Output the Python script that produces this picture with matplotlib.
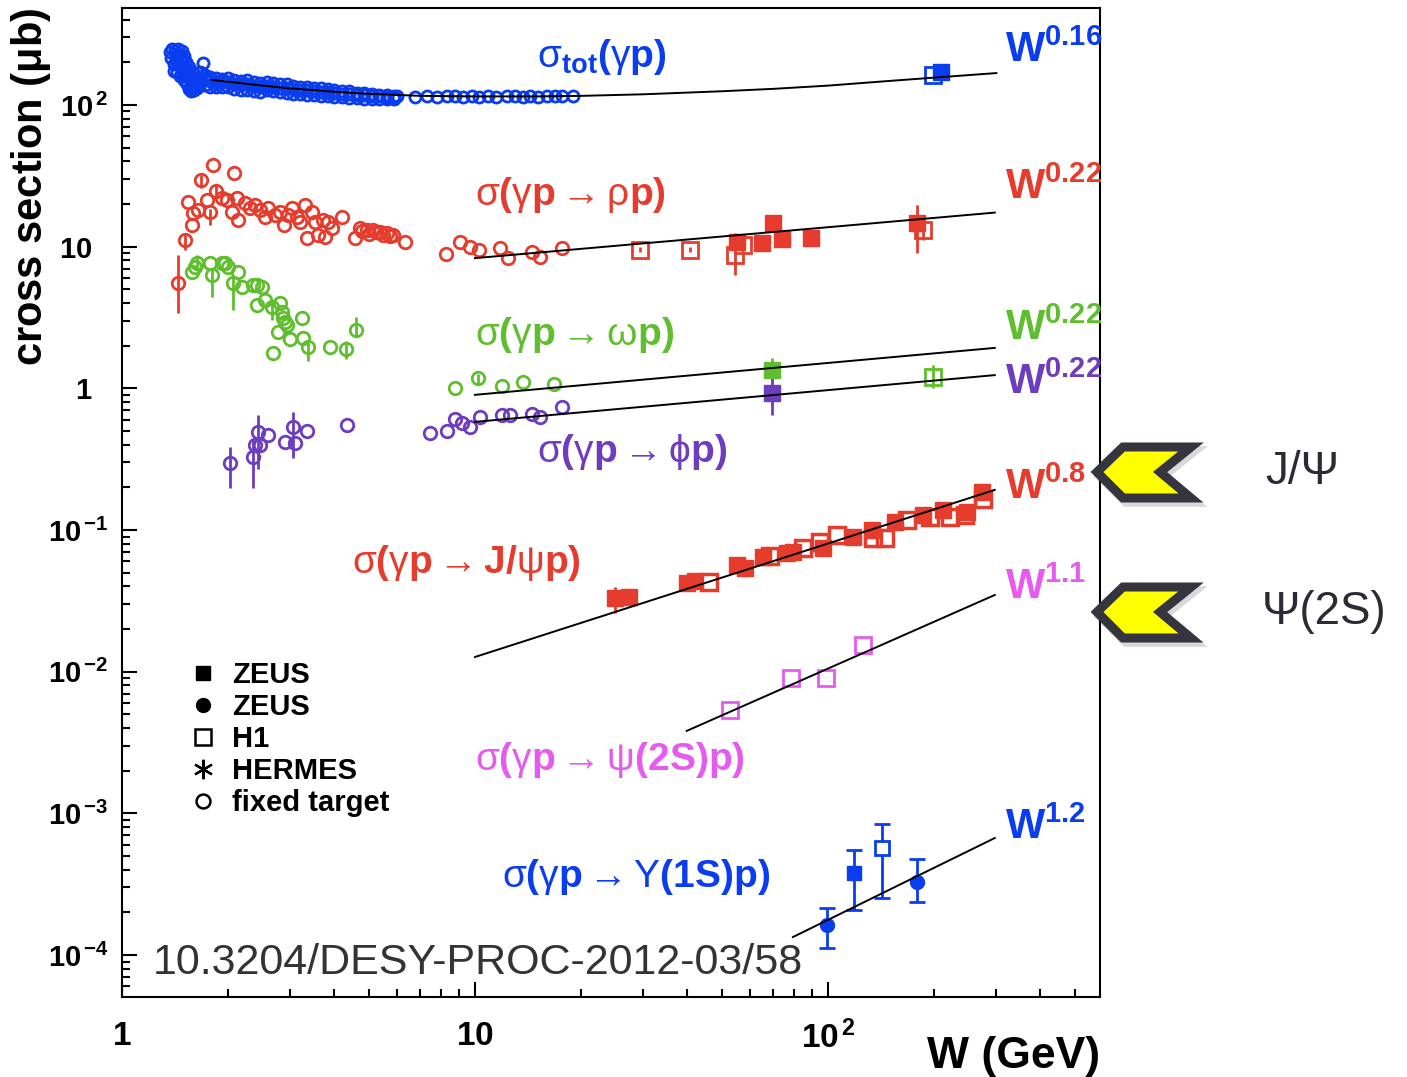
import matplotlib
matplotlib.use("Agg")
import matplotlib.pyplot as plt
from matplotlib import font_manager
from matplotlib.patches import Polygon
from matplotlib.lines import Line2D
from matplotlib.ticker import LogLocator, NullFormatter
from matplotlib.transforms import ScaledTranslation
import numpy as np

names = {f.name for f in font_manager.fontManager.ttflist}
FONT = 'Liberation Sans Narrow' if 'Liberation Sans Narrow' in names else 'Liberation Sans'

plt.rcParams['font.family'] = [FONT, 'DejaVu Sans']
plt.rcParams['mathtext.fontset'] = 'custom'
plt.rcParams['mathtext.rm'] = FONT
plt.rcParams['mathtext.bf'] = FONT + ':bold'
plt.rcParams['mathtext.it'] = FONT + ':italic'
plt.rcParams['mathtext.default'] = 'regular'

BLUE = '#0a3cf0'
RED = '#e63c2d'
GREEN = '#5fbe2d'
PURPLE = '#6e3cbe'
MAGENTA = '#e65af0'

# ---- total cross section, fixed target (W in GeV, sigma in mub)
tot_blob_W = [1.37, 1.38, 1.39, 1.40, 1.41, 1.42, 1.43, 1.44, 1.45, 1.46, 1.47, 1.48, 1.49,
              1.50, 1.50, 1.51, 1.52, 1.53, 1.53, 1.55, 1.56, 1.56, 1.58, 1.58, 1.70,
              1.40, 1.43, 1.46, 1.48, 1.50, 1.52, 1.55, 1.57, 1.60, 1.63]
tot_blob_sig = [235, 215, 250, 195, 240, 225, 205, 250, 230, 215, 190, 240, 205,
                220, 160, 180, 200, 165, 140, 185, 155, 135, 170, 145, 198,
                175, 170, 160, 175, 150, 145, 130, 125, 128, 132]
tot_band_W = [1.60, 1.66, 1.72, 1.78, 1.85, 1.92, 2.00, 2.08, 2.17, 2.26, 2.36, 2.46, 2.57,
              2.68, 2.80, 2.93, 3.06, 3.20, 3.35, 3.50, 3.66, 3.83, 4.00, 4.20, 4.40, 4.62,
              4.85, 5.10, 5.35, 5.62, 5.90]
tot_band_hi = [165, 170, 162, 158, 155, 152, 155, 150, 147, 150, 145, 143, 146,
               142, 140, 140, 137, 135, 135, 132, 131, 129, 127, 125, 125, 122,
               121, 120, 118, 117, 116]
tot_band_mid = [150, 158, 152, 148, 143, 145, 146, 141, 138, 140, 136, 133, 137,
                134, 131, 132, 129, 127, 128, 125, 124, 124, 121, 119, 120, 118,
                117, 116, 115, 114, 114]
tot_band_lo = [136, 142, 138, 135, 133, 134, 133, 130, 128, 128, 126, 124, 127,
               125, 123, 121, 120, 119, 118, 117, 116, 115, 114, 113, 112, 112,
               111, 111, 110, 111, 111]
tot_hiW_W = [6.01, 6.76, 7.31, 7.80, 8.33, 8.77, 9.24, 9.81, 10.3, 10.9, 11.5, 12.3, 13.0,
             13.7, 14.3, 15.1, 16.0, 16.9, 17.7, 19.0]
tot_hiW_sig = [115, 114, 116, 114, 115, 115, 114, 116, 114, 115, 114, 115, 116,
               114, 115, 114, 116, 115, 116, 115]
tot_h1_W = [198]
tot_h1_sig = [163]
tot_zeus_W = [209]
tot_zeus_sig = [170]
tot_fit_W = [1.8, 2.0, 2.5, 3.0, 4.0, 5.0, 7.0, 10, 15, 20, 30, 50, 70, 100, 150, 200, 300]
tot_fit_sig = [150, 146, 137, 131, 124, 120, 116, 115, 115, 116, 119, 125, 130, 137, 148, 156, 168]

# ---- rho
rho_ft_W = [1.44, 1.508, 1.538, 1.579, 1.589, 1.642, 1.675, 1.741, 1.775, 1.810,
            1.846, 1.920, 1.984, 2.049, 2.076, 2.117, 2.131, 2.231, 2.305, 2.381,
            2.460, 2.542, 2.592, 2.713, 2.803, 2.877, 2.953, 3.031, 3.132, 3.193,
            3.299, 3.343, 3.453, 3.522, 3.591, 3.710, 3.759, 3.833, 3.934, 4.201,
            4.571, 4.723, 4.80, 4.944, 5.00, 5.141, 5.25, 5.382, 5.50, 5.633,
            5.75, 5.858, 6.335, 8.278, 9.068, 9.68, 10.26, 11.77, 12.40, 14.50,
            15.28, 17.64]
rho_ft_sig = [5.5, 11.2, 20.7, 14.2, 17.3, 18.2, 29.6, 21.4, 17.6, 37.7,
              24.7, 22.1, 21.4, 17.6, 33.1, 22.1, 15.4, 20.3, 18.8, 19.7,
              18.2, 16.2, 18.8, 16.7, 17.6, 14.2, 16.7, 18.8, 16.2, 14.9,
              19.7, 11.5, 17.6, 14.9, 12.1, 15.4, 11.7, 14.9, 13.6, 16.2,
              11.5, 13.6, 12.9, 13.1, 12.3, 13.1, 12.6, 12.7, 12.0, 12.5,
              11.8, 12.1, 10.8, 8.88, 10.8, 9.95, 9.48, 9.79, 8.32, 9.18,
              8.46, 9.79]
rho_err_W = [1.44, 1.508, 1.675, 1.775, 1.846]
rho_err_lo = [3.4, 9.5, 26.0, 14.2, 22.0]
rho_err_hi = [8.7, 12.3, 31.9, 18.5, 27.5]
rho_zeus_W = [55.2, 65.0, 69.9, 74.1, 89.5, 178.7]
rho_zeus_sig = [10.8, 10.6, 14.7, 11.3, 11.5, 14.7]
rho_zeus_lo = [10.2, 10.1, 13.9, 10.8, 11.0, 9.03]
rho_zeus_hi = [11.4, 11.1, 15.5, 11.8, 12.0, 19.7]
rho_h1_W = [29.3, 40.6, 54.5, 57.4, 186]
rho_h1_sig = [9.48, 9.48, 8.74, 10.3, 13.1]
rho_h1_lo = [9.1, 9.1, 6.33, 9.9, 11.2]
rho_h1_hi = [9.9, 9.9, 12.5, 10.7, 13.7]
rho_fit_W = [10, 297]
rho_fit_sig = [8.3, 17.4]

# ---- omega
om_ft_W = [1.576, 1.610, 1.628, 1.775, 1.795, 1.916, 1.958, 2.001, 2.136, 2.067,
           2.184, 2.355, 2.408, 2.488, 2.408, 2.542, 2.655, 2.803, 2.834, 2.863,
           2.895, 2.928, 2.772, 2.991, 3.229, 3.263, 3.371, 2.683, 3.884, 4.311,
           4.602, 8.78, 10.2, 11.9, 13.7, 16.7]
om_ft_sig = [6.66, 7.22, 7.64, 7.64, 6.31, 7.64, 7.64, 7.22, 6.66, 5.52,
             5.22, 5.37, 5.37, 5.22, 3.88, 4.21, 3.77, 4.01, 3.48, 3.14,
             2.96, 2.80, 2.51, 2.22, 3.12, 2.26, 1.97, 1.79, 1.97, 1.89,
             2.58, 1.00, 1.18, 1.04, 1.10, 1.07]
om_err_W = [1.628, 1.795, 2.067, 2.655, 3.371, 4.311, 4.602, 10.2]
om_err_lo = [7.2, 4.43, 3.59, 3.05, 1.55, 1.62, 2.30, 1.08]
om_err_hi = [8.7, 7.0, 6.2, 4.21, 2.10, 2.17, 3.20, 1.26]
om_zeus_W = [69.3]
om_zeus_sig = [1.35]
om_zeus_lo = [1.146]
om_zeus_hi = [1.64]
om_h1_W = [198]
om_h1_sig = [1.21]
om_h1_lo = [1.0]
om_h1_hi = [1.46]
om_fit_W = [10, 297]
om_fit_sig = [0.90, 1.93]

# ---- phi
phi_ft_W = [2.022, 2.355, 2.381, 2.433, 2.460, 2.597, 2.895, 3.045, 3.091, 3.349,
            4.331, 7.459, 8.316, 8.78, 9.169, 9.68, 10.33, 11.9, 12.57, 14.47,
            15.28, 17.61]
phi_ft_sig = [0.296, 0.330, 0.399, 0.495, 0.399, 0.469, 0.420, 0.537, 0.410, 0.503,
              0.552, 0.487, 0.503, 0.605, 0.567, 0.537, 0.625, 0.649, 0.649, 0.660,
              0.625, 0.736]
phi_err_W = [2.022, 2.355, 2.433, 3.045]
phi_err_lo = [0.197, 0.198, 0.27, 0.321]
phi_err_hi = [0.388, 0.43, 0.649, 0.685]
phi_zeus_W = [69.3]
phi_zeus_sig = [0.923]
phi_zeus_lo = [0.649]
phi_zeus_hi = [1.21]
phi_fit_W = [10, 297]
phi_fit_sig = [0.58, 1.24]

# ---- J/psi
jpsi_zeus_W = [24.9, 27.4, 39.8, 42.0, 55.1, 58.2, 65.6, 76.4, 79.8, 97.0, 117.9, 133.0,
               154.8, 186.2, 212.1, 247.1, 272.5]
jpsi_zeus_sig = [0.0330, 0.0339, 0.0421, 0.0437, 0.0567, 0.0537, 0.0649, 0.0686, 0.0704,
                 0.0744, 0.0898, 0.1002, 0.1146, 0.1278, 0.1387, 0.1349, 0.1866]
jpsi_h1_W = [46.1, 68.5, 85.1, 94.9, 105.8, 134.4, 145.0, 167.1, 194.5, 221.6, 244.4, 275.4]
jpsi_h1_sig = [0.0428, 0.0656, 0.0744, 0.0828, 0.0924, 0.0875, 0.0875, 0.1178, 0.1244,
               0.1244, 0.1278, 0.1650]
jpsi_err_W = [24.9]
jpsi_err_lo = [0.0259]
jpsi_err_hi = [0.0399]
jpsi_fit_W = [10, 297]
jpsi_fit_sig = [0.0127, 0.192]

# ---- psi(2S)
psi2s_h1_W = [52.8, 78.6, 98.5, 125.9]
psi2s_h1_sig = [0.00537, 0.00900, 0.00900, 0.01545]
psi2s_fit_W = [39.8, 297]
psi2s_fit_sig = [0.00382, 0.0348]

# ---- Upsilon(1S)
ups_zc_W = [99.2, 178.3]
ups_zc_sig = [1.633e-4, 3.30e-4]
ups_zc_lo = [1.124e-4, 2.37e-4]
ups_zc_hi = [2.15e-4, 4.73e-4]
ups_zs_W = [118.7]
ups_zs_sig = [3.82e-4]
ups_zs_lo = [2.08e-4]
ups_zs_hi = [5.52e-4]
ups_h1_W = [141.9]
ups_h1_sig = [5.68e-4]
ups_h1_lo = [2.53e-4]
ups_h1_hi = [8.43e-4]
ups_fit_W = [79.6, 297]
ups_fit_sig = [1.34e-4, 6.7e-4]

x_ticks = [1, 10, 100]
x_tick_labels = [r'$\mathbf{1}$', r'$\mathbf{10}$', r'$\mathbf{10}^{\,\mathbf{2}}$']
y_ticks = [1e-4, 1e-3, 1e-2, 1e-1, 1, 10, 100]
y_tick_labels = [r'$\mathbf{10}^{\,\mathbf{-4}}$', r'$\mathbf{10}^{\,\mathbf{-3}}$',
                 r'$\mathbf{10}^{\,\mathbf{-2}}$', r'$\mathbf{10}^{\,\mathbf{-1}}$',
                 r'$\mathbf{1}$', r'$\mathbf{10}$', r'$\mathbf{10}^{\,\mathbf{2}}$']


def errs(y, lo, hi):
    y = np.array(y)
    return [y - np.array(lo), np.array(hi) - y]


def bars(ax, W, lo, hi, color):
    # plain vertical error bars for fixed target points
    ax.vlines(W, lo, hi, color=color, lw=2, zorder=1)


fig = plt.figure(figsize=(14.07, 10.77), dpi=100)
ax = fig.add_axes([0.0867, 0.0743, 0.6951, 0.9183])
ax.set_xscale('log')
ax.set_yscale('log')
ax.set_xlim(1, 590)
ax.set_ylim(5.06e-5, 484)

circ = dict(marker='o', ls='none', mfc='none')
# total
for W, s in [(tot_blob_W, tot_blob_sig), (tot_band_W, tot_band_hi), (tot_band_W, tot_band_mid),
             (tot_band_W, tot_band_lo), (tot_hiW_W, tot_hiW_sig)]:
    ax.plot(W, s, mec=BLUE, ms=8, mew=2, **circ)
ax.plot(tot_h1_W, tot_h1_sig, 's', mfc='none', mec=BLUE, ms=11, mew=2)
ax.plot(tot_zeus_W, tot_zeus_sig, 's', color=BLUE, ms=11)

# rho
bars(ax, rho_err_W, rho_err_lo, rho_err_hi, RED)
ax.plot(rho_ft_W, rho_ft_sig, mec=RED, ms=9, mew=2, **circ)
ax.errorbar(rho_zeus_W, rho_zeus_sig, yerr=errs(rho_zeus_sig, rho_zeus_lo, rho_zeus_hi),
            fmt='s', color=RED, ms=11, elinewidth=2)
ax.errorbar(rho_h1_W, rho_h1_sig, yerr=errs(rho_h1_sig, rho_h1_lo, rho_h1_hi),
            fmt='s', mfc='none', mec=RED, ecolor=RED, ms=11, mew=2, elinewidth=2)

# omega
bars(ax, om_err_W, om_err_lo, om_err_hi, GREEN)
ax.plot(om_ft_W, om_ft_sig, mec=GREEN, ms=9, mew=2, **circ)
ax.errorbar(om_zeus_W, om_zeus_sig, yerr=errs(om_zeus_sig, om_zeus_lo, om_zeus_hi),
            fmt='s', color=GREEN, ms=11, elinewidth=2)
ax.errorbar(om_h1_W, om_h1_sig, yerr=errs(om_h1_sig, om_h1_lo, om_h1_hi),
            fmt='s', mfc='none', mec=GREEN, ecolor=GREEN, ms=11, mew=2, elinewidth=2)

# phi
bars(ax, phi_err_W, phi_err_lo, phi_err_hi, PURPLE)
ax.plot(phi_ft_W, phi_ft_sig, mec=PURPLE, ms=9, mew=2, **circ)
ax.errorbar(phi_zeus_W, phi_zeus_sig, yerr=errs(phi_zeus_sig, phi_zeus_lo, phi_zeus_hi),
            fmt='s', color=PURPLE, ms=11, elinewidth=2)

# J/psi
bars(ax, jpsi_err_W, jpsi_err_lo, jpsi_err_hi, RED)
ax.plot(jpsi_h1_W, jpsi_h1_sig, 's', mfc='none', mec=RED, ms=12, mew=2.5)
ax.plot(jpsi_zeus_W, jpsi_zeus_sig, 's', color=RED, ms=12)

# psi(2S)
ax.plot(psi2s_h1_W, psi2s_h1_sig, 's', mfc='none', mec=MAGENTA, ms=11, mew=2)

# Upsilon
ax.errorbar(ups_zc_W, ups_zc_sig, yerr=errs(ups_zc_sig, ups_zc_lo, ups_zc_hi),
            fmt='o', color=BLUE, ms=10, elinewidth=2, capsize=6, capthick=2)
ax.errorbar(ups_zs_W, ups_zs_sig, yerr=errs(ups_zs_sig, ups_zs_lo, ups_zs_hi),
            fmt='s', color=BLUE, ms=10, elinewidth=2, capsize=6, capthick=2)
ax.errorbar(ups_h1_W, ups_h1_sig, yerr=errs(ups_h1_sig, ups_h1_lo, ups_h1_hi),
            fmt='s', mfc='white', mec=BLUE, ecolor=BLUE, ms=10, mew=2, elinewidth=2,
            capsize=6, capthick=2)

# fits
for W, s in [(tot_fit_W, tot_fit_sig), (rho_fit_W, rho_fit_sig), (om_fit_W, om_fit_sig),
             (phi_fit_W, phi_fit_sig), (jpsi_fit_W, jpsi_fit_sig), (psi2s_fit_W, psi2s_fit_sig),
             (ups_fit_W, ups_fit_sig)]:
    ax.plot(W, s, color='black', lw=1.4, zorder=6)

# process labels
lab = dict(transform=ax.transAxes, ha='left', va='center', fontsize=28)
ax.text(0.424, 0.950, r'$\sigma_{\mathbf{tot}}\mathbf{(}\gamma\mathbf{p)}$', color=BLUE, **lab)
ax.text(0.361, 0.811, r'$\sigma\mathbf{(}\gamma\mathbf{p}\rightarrow\rho\mathbf{p)}$', color=RED, **lab)
ax.text(0.361, 0.669, r'$\sigma\mathbf{(}\gamma\mathbf{p}\rightarrow\omega\mathbf{p)}$', color=GREEN, **lab)
ax.text(0.424, 0.551, r'$\sigma\mathbf{(}\gamma\mathbf{p}\rightarrow\phi\mathbf{p)}$', color=PURPLE, **lab)
ax.text(0.235, 0.439, r'$\sigma\mathbf{(}\gamma\mathbf{p}\rightarrow\mathbf{J/}\psi\mathbf{p)}$', color=RED, **lab)
ax.text(0.361, 0.240, r'$\sigma\mathbf{(}\gamma\mathbf{p}\rightarrow\psi\mathbf{(2S)p)}$', color=MAGENTA, **lab)
ax.text(0.389, 0.121, r'$\sigma\mathbf{(}\gamma\mathbf{p}\rightarrow\Upsilon\mathbf{(1S)p)}$', color=BLUE, **lab)

wl = dict(transform=ax.transAxes, ha='left', va='center', fontsize=30)
ax.text(0.903, 0.957, r'$\mathbf{W^{0.16}}$', color=BLUE, **wl)
ax.text(0.903, 0.818, r'$\mathbf{W^{0.22}}$', color=RED, **wl)
ax.text(0.903, 0.676, r'$\mathbf{W^{0.22}}$', color=GREEN, **wl)
ax.text(0.903, 0.621, r'$\mathbf{W^{0.22}}$', color=PURPLE, **wl)
ax.text(0.903, 0.515, r'$\mathbf{W^{0.8}}$', color=RED, **wl)
ax.text(0.903, 0.414, r'$\mathbf{W^{1.1}}$', color=MAGENTA, **wl)
ax.text(0.903, 0.171, r'$\mathbf{W^{1.2}}$', color=BLUE, **wl)

# legend
handles = [Line2D([], [], marker='s', ls='none', color='black', ms=10),
           Line2D([], [], marker='o', ls='none', color='black', ms=10),
           Line2D([], [], marker='s', ls='none', mfc='none', mec='black', ms=11, mew=1.8),
           Line2D([], [], marker=(6, 2, 0), ls='none', color='black', ms=14, mew=1.6),
           Line2D([], [], marker='o', ls='none', mfc='none', mec='black', ms=10, mew=1.8)]
ax.legend(handles, ['ZEUS', 'ZEUS', 'H1', 'HERMES', 'fixed target'],
          loc='upper left', bbox_to_anchor=(0.0726, 0.3400), frameon=False,
          prop={'weight': 'bold', 'size': 21}, handlelength=0.72, handletextpad=0.62,
          borderpad=0, borderaxespad=0, labelspacing=0.14)

# axes style
ax.set_xticks(x_ticks, labels=x_tick_labels)
ax.set_yticks(y_ticks, labels=y_tick_labels)
ax.xaxis.set_minor_locator(LogLocator(base=10, subs=np.arange(2, 10)))
ax.yaxis.set_minor_locator(LogLocator(base=10, subs=np.arange(2, 10), numticks=20))
ax.xaxis.set_minor_formatter(NullFormatter())
ax.yaxis.set_minor_formatter(NullFormatter())
ax.tick_params(which='both', direction='in', top=False, right=False, width=1.5)
ax.tick_params(which='major', length=11)
ax.tick_params(which='minor', length=5.5)
ax.tick_params(axis='x', pad=17, labelsize=24)
ax.tick_params(axis='y', pad=10, labelsize=21)
for sp in ax.spines.values():
    sp.set_linewidth(1.5)

# ROOT puts the exponent beyond the "10", so plain labels sit further left
yt = ax.yaxis.get_major_ticks()
for i in (4, 5):
    yt[i].label1.set_transform(yt[i].label1.get_transform()
                               + ScaledTranslation(-0.16, 0, fig.dpi_scale_trans))

ax.set_ylabel(r'cross section ($\mathbf{\mu}$b)', fontsize=30, fontweight='bold', loc='top')
ax.yaxis.set_label_coords(-0.071, 1.0)
ax.set_xlabel('W (GeV)', fontsize=32, fontweight='bold', loc='right')
ax.xaxis.set_label_coords(1.0, -0.039)

# overlays: DOI and chevron markers
fig.text(153 / 1407, 1 - 963 / 1077, '10.3204/DESY-PROC-2012-03/58', fontsize=31,
         family='Liberation Sans', color='#333333', va='center', ha='left')

chev = [(1097, 0), (1123, -25), (1191, -25), (1160, 0), (1191, 26), (1123, 26)]
for cy, txt, tx in [(472, 'J/\u03a8', 1265), (612, '\u03a8(2S)', 1262)]:
    sh = [((x + 3) / 1407, 1 - (cy + y + 4) / 1077) for x, y in chev]
    fig.patches.append(Polygon(sh, closed=True, transform=fig.transFigure, facecolor='#000000',
                               edgecolor='#000000', lw=7, alpha=0.15, joinstyle='miter'))
    pts = [(x / 1407, 1 - (cy + y) / 1077) for x, y in chev]
    fig.patches.append(Polygon(pts, closed=True, transform=fig.transFigure, facecolor='#ffff00',
                               edgecolor='#34353f', lw=6.5, joinstyle='miter'))
    fig.text(tx / 1407, 1 - cy / 1077, txt, fontsize=33, family='Liberation Sans',
             color='#2b2b35', va='center', ha='left')

fig.savefig('out.png', dpi=100)
